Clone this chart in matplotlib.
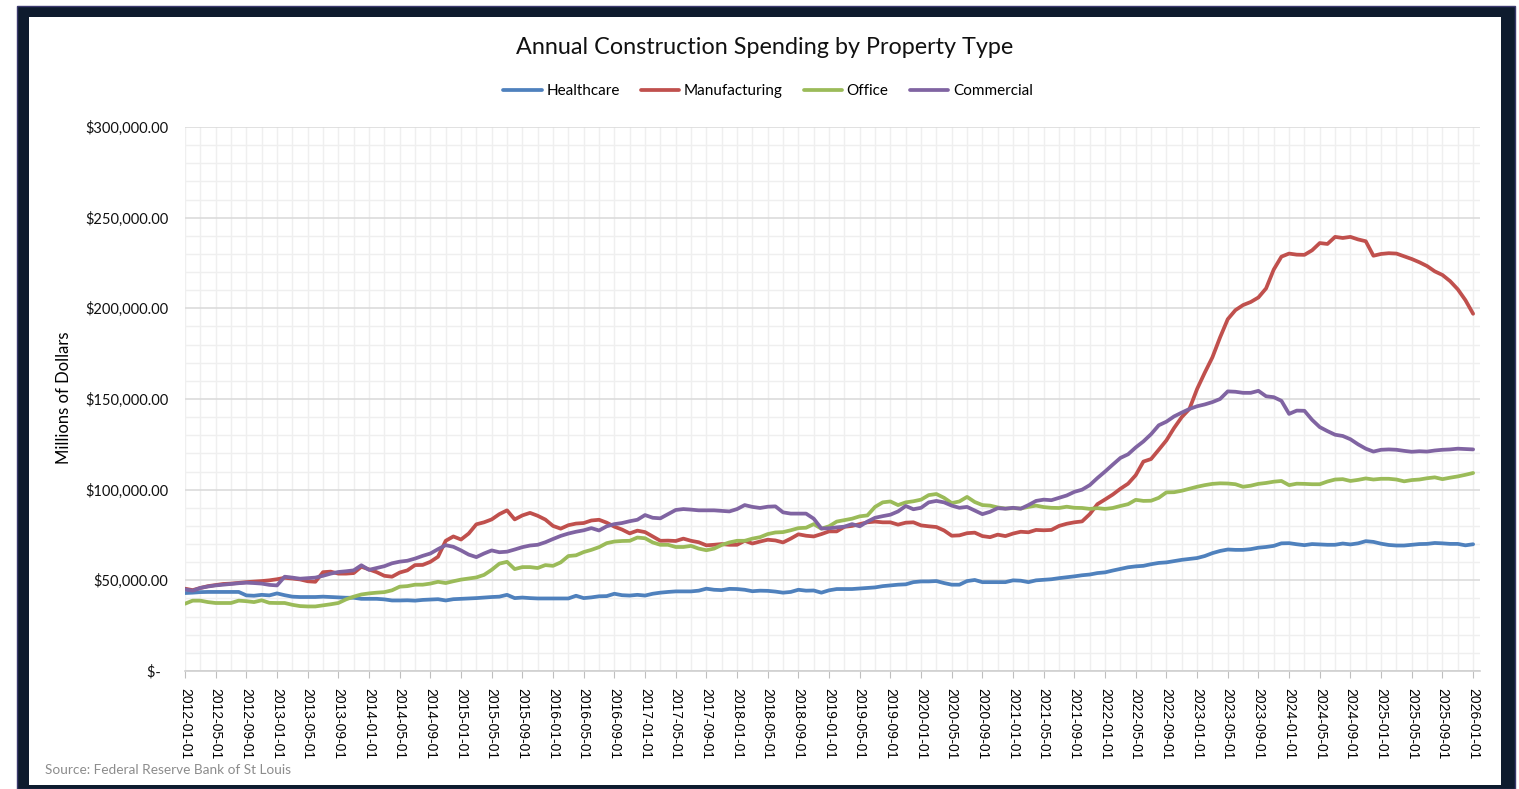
import matplotlib
matplotlib.use('Agg')
import matplotlib.pyplot as plt
from matplotlib.patches import Rectangle
from matplotlib.ticker import MultipleLocator, FuncFormatter
import numpy as np
import pandas as pd

# monthly values, in thousands of $ millions
dates = pd.date_range('2012-01-01', periods=169, freq='MS')

healthcare = [
    43.0, 43.2, 43.5, 43.6, 43.6, 43.6, 43.6, 43.6, 41.7, 41.5, 42.0, 41.7, 42.8, 41.8, 41.0, 40.8,
    40.8, 40.8, 41.0, 40.8, 40.6, 40.4, 40.4, 39.8, 39.8, 39.8, 39.5,
    38.9, 38.9, 39.0, 38.8, 39.2, 39.4, 39.6, 38.9, 39.6, 39.8, 40.0, 40.2, 40.5, 40.8, 41.0, 42.0,
    40.2, 40.5, 40.2, 40.0, 40.0, 40.0, 40.0, 40.0, 41.5, 40.2, 40.6, 41.2,
    41.3, 42.6, 41.8, 41.6, 42.0, 41.6, 42.6, 43.2, 43.6, 43.9, 43.9, 43.9, 44.3, 45.4, 44.8, 44.6,
    45.3, 45.2, 44.8, 44.0, 44.3, 44.2, 43.8, 43.2, 43.6, 44.8, 44.3, 44.4,
    43.2, 44.5, 45.2, 45.2, 45.2, 45.5, 45.8, 46.1, 46.8, 47.2, 47.6, 47.8, 49.0, 49.4, 49.4, 49.6,
    48.5, 47.6, 47.6, 49.6, 50.2, 49.0, 49.0, 49.0, 49.0, 50.0, 49.8,
    49.0, 50.0, 50.3, 50.6, 51.2, 51.7, 52.2, 52.8, 53.2, 54.0, 54.4, 55.4, 56.3, 57.2, 57.7, 58.0,
    58.9, 59.6, 59.9, 60.6, 61.3, 61.8, 62.3, 63.4, 65.0, 66.2, 67.0, 66.8,
    66.8, 67.2, 68.0, 68.4, 69.0, 70.4, 70.5, 69.9, 69.4, 70.0, 69.8, 69.6, 69.6, 70.3, 69.8, 70.4,
    71.6, 71.2, 70.2, 69.5, 69.2, 69.2, 69.6, 70.0, 70.1, 70.6, 70.4, 70.1, 70.1, 69.3, 69.9,
]

manufacturing = [
    45.4, 44.6, 45.8, 46.8, 47.4, 48.0, 48.2, 48.6, 49.0, 49.3, 49.6, 50.0, 50.6, 51.4, 51.0, 50.5,
    49.5, 49.2, 54.5, 54.8, 53.7, 53.7, 54.0, 57.5, 56.0, 54.5, 52.5,
    52.0, 54.3, 55.5, 58.4, 58.5, 60.2, 63.0, 71.8, 74.2, 72.5, 75.8, 80.9, 82.0, 83.6, 86.5, 88.6,
    83.6, 85.8, 87.2, 85.6, 83.5, 80.0, 78.5, 80.4, 81.3, 81.6, 83.0, 83.4,
    81.8, 79.6, 78.0, 75.9, 77.4, 76.6, 74.2, 71.8, 71.9, 71.7, 73.0, 71.8, 71.0, 69.3, 69.6, 70.0,
    69.6, 69.6, 71.8, 70.3, 71.4, 72.4, 72.0, 70.9, 73.0, 75.4, 74.6, 74.2,
    75.5, 77.0, 77.0, 79.5, 80.0, 81.0, 82.0, 82.4, 82.0, 82.0, 80.7, 81.8, 82.0, 80.3, 79.8, 79.4,
    77.5, 74.6, 74.8, 76.0, 76.3, 74.4, 73.8, 75.2, 74.4, 75.8, 76.8,
    76.5, 77.8, 77.6, 77.8, 80.0, 81.2, 82.0, 82.5, 86.5, 92.0, 94.6, 97.3, 100.5, 103.3, 108.0, 115.5,
    116.9, 122.0, 127.2, 134.0, 140.0, 144.5, 155.5, 164.5, 173.0, 184.0, 194.0, 199.0,
    201.8, 203.5, 206.0, 211.0, 221.4, 228.5, 230.2, 229.6, 229.5, 232.0, 236.0, 235.5, 239.4, 238.8, 239.4, 238.0,
    237.0, 229.0, 230.0, 230.4, 230.2, 228.7, 227.2, 225.4, 223.3, 220.4, 218.4, 215.0, 210.5, 204.5, 197.0,
]

office = [
    37.1, 38.8, 38.8, 38.0, 37.5, 37.5, 37.5, 38.8, 38.5, 38.0, 39.0, 37.6, 37.5, 37.5, 36.5, 35.8,
    35.6, 35.6, 36.2, 36.8, 37.5, 39.5, 41.0, 42.2, 42.8, 43.2, 43.5,
    44.5, 46.5, 46.8, 47.6, 47.6, 48.2, 49.2, 48.5, 49.5, 50.4, 51.0, 51.6, 53.0, 55.8, 59.2, 60.2,
    56.2, 57.3, 57.3, 56.8, 58.4, 58.0, 59.9, 63.4, 63.8, 65.6, 66.8, 68.3,
    70.5, 71.4, 71.7, 71.8, 73.6, 73.2, 70.9, 69.6, 69.6, 68.4, 68.4, 69.0, 67.5, 66.6, 67.5, 69.5,
    70.9, 71.8, 71.8, 73.0, 73.8, 75.5, 76.4, 76.6, 77.6, 78.8, 79.0, 81.0,
    78.5, 79.8, 82.4, 83.2, 84.0, 85.3, 85.8, 90.5, 93.0, 93.5, 91.5, 93.0, 93.6, 94.5, 97.0, 97.6,
    95.5, 92.6, 93.5, 96.0, 93.2, 91.5, 91.2, 90.2, 89.6, 89.8, 89.6,
    90.5, 91.2, 90.4, 90.0, 89.9, 90.6, 90.0, 89.9, 89.4, 89.8, 89.4, 89.9, 91.0, 92.0, 94.4, 93.8,
    93.9, 95.5, 98.5, 98.6, 99.4, 100.5, 101.6, 102.5, 103.2, 103.5, 103.4, 103.0,
    101.6, 102.2, 103.2, 103.7, 104.4, 104.8, 102.5, 103.3, 103.2, 103.0, 103.0, 104.5, 105.6, 105.8, 104.8, 105.4,
    106.2, 105.6, 106.0, 106.0, 105.6, 104.6, 105.3, 105.6, 106.3, 106.8, 105.8, 106.6, 107.3, 108.2, 109.2,
]

commercial = [
    45.0, 44.3, 45.8, 46.6, 47.2, 47.6, 48.0, 48.4, 48.7, 48.5, 48.2, 47.5, 47.2, 52.0, 51.5, 50.9,
    51.2, 51.5, 52.5, 53.7, 54.6, 55.0, 55.5, 58.3, 55.8, 56.8, 57.8,
    59.4, 60.3, 60.8, 62.0, 63.5, 64.8, 67.2, 69.4, 68.5, 66.5, 64.2, 62.8, 64.8, 66.5, 65.5, 65.8,
    67.0, 68.3, 69.2, 69.6, 71.0, 72.8, 74.5, 75.8, 76.8, 77.6, 78.8, 77.5,
    79.8, 81.0, 81.6, 82.6, 83.4, 86.0, 84.5, 84.2, 86.5, 88.8, 89.3, 89.0, 88.6, 88.6, 88.6, 88.3,
    88.0, 89.3, 91.5, 90.5, 89.9, 90.6, 90.8, 87.5, 86.8, 86.8, 86.8, 84.0,
    78.6, 78.7, 79.2, 79.6, 81.0, 79.8, 82.4, 84.5, 85.4, 86.2, 88.0, 91.0, 89.2, 90.0, 93.0, 93.8,
    93.0, 91.2, 90.0, 90.5, 88.5, 86.5, 87.8, 89.8, 89.5, 90.0, 89.5,
    91.5, 93.8, 94.5, 94.2, 95.5, 96.8, 98.8, 100.0, 102.5, 106.4, 110.0, 113.8, 117.5, 119.5, 123.3, 126.6,
    130.6, 135.5, 137.5, 140.4, 142.5, 144.5, 146.0, 147.0, 148.3, 150.0, 154.2, 154.0,
    153.4, 153.4, 154.5, 151.5, 151.0, 149.0, 141.8, 143.6, 143.5, 138.5, 134.5, 132.3, 130.3, 129.6, 127.8, 125.0,
    122.6, 121.0, 122.0, 122.2, 122.0, 121.4, 120.9, 121.2, 121.0, 121.6, 122.0, 122.2, 122.6, 122.4, 122.2,
]

series = [
    ('Healthcare', healthcare, '#4F81BD'),
    ('Manufacturing', manufacturing, '#C0504D'),
    ('Office', office, '#9BBB59'),
    ('Commercial', commercial, '#8064A2'),
]

W, H = 1519, 789
fig = plt.figure(figsize=(W / 100, H / 100), dpi=100)
fig.patch.set_facecolor('white')

# dark frame around the chart
fig.patches.append(Rectangle((17 / W, 0), (1515 - 17) / W, (H - 6) / H,
                             transform=fig.transFigure, facecolor='#0e1b2e',
                             edgecolor='#3b3a6e', linewidth=1, zorder=-3))
fig.patches.append(Rectangle((29 / W, 4 / H), (1501 - 29) / W, (H - 17 - 4) / H,
                             transform=fig.transFigure, facecolor='white',
                             edgecolor='none', zorder=-2))

ax = fig.add_axes([185 / W, (H - 671) / H, (1480 - 185) / W, (671 - 127) / H])
ax.set_facecolor('none')

x = np.arange(len(dates))
for name, vals, col in series:
    ax.plot(x, np.array(vals) * 1000, color=col, linewidth=2.7, label=name,
            solid_joinstyle='round', solid_capstyle='round')

ax.set_xlim(0, 168.9)
ax.set_ylim(0, 300000)

ax.xaxis.set_major_locator(MultipleLocator(4))
ax.xaxis.set_minor_locator(MultipleLocator(2))
ax.yaxis.set_major_locator(MultipleLocator(50000))
ax.yaxis.set_minor_locator(MultipleLocator(10000))

labels = [d.strftime('%Y-%m-%d') for d in dates]
ax.xaxis.set_major_formatter(FuncFormatter(
    lambda v, p: labels[int(round(v))] if 0 <= int(round(v)) < len(labels) else ''))
ax.yaxis.set_major_formatter(FuncFormatter(
    lambda v, p: '$-  ' if v == 0 else f'${v:,.2f}'))

ax.tick_params(axis='x', which='major', length=5, color='#bfbfbf', pad=7,
               labelrotation=270, labelsize=10, labelcolor='#000000')
ax.tick_params(axis='x', which='minor', length=0)
ax.tick_params(axis='y', which='both', length=0, pad=12, labelsize=10.5, labelcolor='#111111')
for lab in ax.get_xticklabels():
    lab.set_fontfamily('Liberation Sans')
for lab in ax.get_yticklabels():
    lab.set_fontfamily('Lato')

ax.grid(which='major', axis='y', color='#d9d9d9', linewidth=1.1)
ax.grid(which='minor', axis='y', color='#efefef', linewidth=1.0)
ax.grid(which='both', axis='x', color='#efefef', linewidth=1.0)
ax.set_axisbelow(True)

for s in ['top', 'right', 'left']:
    ax.spines[s].set_visible(False)
ax.spines['bottom'].set_color('#d0d0d0')
ax.spines['bottom'].set_linewidth(1.2)

fig.text(64 / W, 1 - 398 / H, 'Millions of Dollars', rotation=90, ha='center', va='center',
         fontsize=12, family='Lato', color='#000000')

fig.text(765 / W, 1 - 48 / H, 'Annual Construction Spending by Property Type',
         ha='center', va='center', fontsize=16.8, family='Lato', color='#111111')

fig.legend(loc='center', bbox_to_anchor=(768 / W, 1 - 91 / H), ncol=4, frameon=False,
           prop={'family': 'Lato', 'size': 11}, handlelength=2.5, handletextpad=0.3,
           columnspacing=1.4)

fig.text(45 / W, 1 - 770 / H, 'Source: Federal Reserve Bank of St Louis',
         ha='left', va='center', fontsize=9.8, family='Lato', color='#8c8c8c')

fig.savefig('out.png', dpi=100)
